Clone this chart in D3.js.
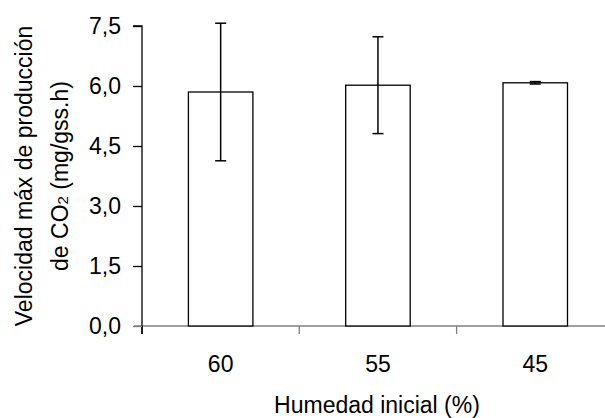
<!DOCTYPE html>
<html>
<head>
<meta charset="utf-8">
<script src="https://cdn.jsdelivr.net/npm/d3@7"></script>
<style>
body{margin:0;background:#fff;}
text{font-family:"Liberation Sans",Arial,sans-serif;}
</style>
</head>
<body>
<svg id="c" width="605" height="418"></svg>
<script>
const categories = ["60","55","45"];
const values = [5.85, 6.02, 6.08];
const errors = [1.72, 1.21, 0.03];
const yTicks = [0, 1.5, 3.0, 4.5, 6.0, 7.5];

const svg = d3.select("#c");
const FS = 23;
const x0 = 142, y0 = 326, yTop = 26;
const bandW = 157.3;
const x = d3.scaleBand().domain(categories).range([x0, x0 + bandW*3]).paddingInner(0.59).paddingOuter(0.295);
const y = d3.scaleLinear().domain([0, 7.5]).range([y0, yTop]);

// x axis line (gray)
svg.append("line").attr("x1", 134).attr("x2", 605).attr("y1", y0).attr("y2", y0)
  .attr("stroke", "#808080").attr("stroke-width", 1.3);
// x ticks at band boundaries
[0,1,2].forEach(i => {
  const xt = x0 + bandW*i;
  svg.append("line").attr("x1", xt).attr("x2", xt).attr("y1", y0).attr("y2", y0+8)
    .attr("stroke", i===0 ? "#000" : "#808080").attr("stroke-width", 1.3);
});

// y axis
const yAxis = d3.axisLeft(y).tickValues(yTicks).tickSize(9).tickPadding(12)
  .tickFormat(d => d3.format(".1f")(d).replace(".", ","));
const gy = svg.append("g").attr("transform", `translate(${x0},0)`).call(yAxis);
gy.attr("font-size", FS).attr("font-family", '"Liberation Sans",Arial,sans-serif');
gy.select(".domain").attr("d", `M-9,${yTop}H0V${y0+8}`).attr("stroke", "#000").attr("stroke-width", 1.3);
gy.selectAll(".tick line").attr("stroke", d => d===0 ? "#808080" : "#000").attr("stroke-width", 1.3);
gy.selectAll(".tick text").attr("fill", "#000");

// bars
svg.selectAll("rect.bar").data(values).join("rect").attr("class","bar")
  .attr("x", (d,i) => x(categories[i]))
  .attr("y", d => y(d))
  .attr("width", x.bandwidth())
  .attr("height", d => y0 - y(d))
  .attr("fill", "#fff").attr("stroke", "#000").attr("stroke-width", 1.3);

// error bars
const cap = 5.5;
values.forEach((v,i) => {
  const cx = x(categories[i]) + x.bandwidth()/2;
  const hi = y(v + errors[i]), lo = y(v - errors[i]);
  const g = svg.append("g").attr("stroke", "#000").attr("stroke-width", 1.5);
  g.append("line").attr("x1", cx).attr("x2", cx).attr("y1", hi).attr("y2", lo);
  g.append("line").attr("x1", cx-cap).attr("x2", cx+cap).attr("y1", hi).attr("y2", hi);
  g.append("line").attr("x1", cx-cap).attr("x2", cx+cap).attr("y1", lo).attr("y2", lo);
});

// x tick labels
svg.selectAll("text.xl").data(categories).join("text").attr("class","xl")
  .attr("x", d => x(d) + x.bandwidth()/2).attr("y", 372)
  .attr("text-anchor", "middle").attr("font-size", FS).text(d => d);

// x title
svg.append("text").attr("x", 377).attr("y", 413).attr("text-anchor", "middle")
  .attr("font-size", FS).text("Humedad inicial (%)");

// y title
const yt = svg.append("text").attr("transform", "translate(0,176) rotate(-90)")
  .attr("text-anchor", "middle").attr("font-size", FS);
yt.append("tspan").attr("x", 0).attr("y", 32).text("Velocidad máx de producción");
const t2 = yt.append("tspan").attr("x", 0).attr("y", 68);
t2.text("de CO");
yt.append("tspan").attr("font-size", 15).text("2");
yt.append("tspan").text(" (mg/gss.h)");
</script>
</body>
</html>
